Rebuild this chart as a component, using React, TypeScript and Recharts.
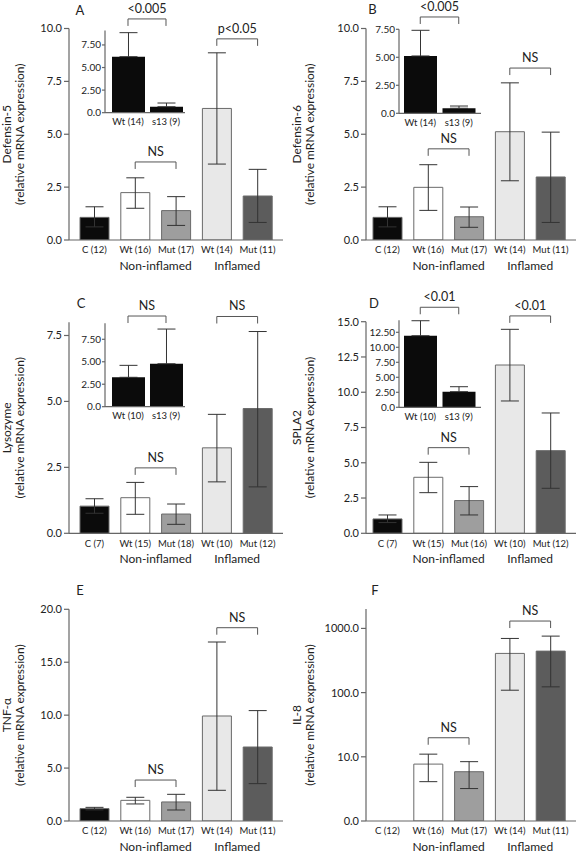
import React from "react"
import { BarChart, Bar, XAxis, YAxis, ErrorBar, Cell, ReferenceLine } from "recharts"

const FONT = "Lato, 'Noto Sans', sans-serif"
const INK = "#222"
const AXIS = "#666"

// categories
const catsA = ["C (12)", "Wt (16)", "Mut (17)", "Wt (14)", "Mut (11)"]
const catsC = ["C (7)", "Wt (15)", "Mut (18)", "Wt (10)", "Mut (12)"]
const catsD = ["C (7)", "Wt (15)", "Mut (16)", "Wt (10)", "Mut (12)"]
const groupNames = ["", "Non-inflamed", "", "Inflamed", ""]
const barFills = ["#0b0b0b", "#ffffff", "#9e9e9e", "#e8e8e8", "#5c5c5c"]
const insetCatsAB = ["Wt (14)", "s13 (9)"]
const insetCatsCD = ["Wt (10)", "s13 (9)"]

// A - Defensin-5
const def5Mean = [1.07, 2.24, 1.39, 6.22, 2.08]
const def5High = [1.57, 2.94, 2.05, 8.85, 3.34]
const def5Low = [0.62, 1.5, 0.69, 3.59, 0.83]
// B - Defensin-6
const def6Mean = [1.07, 2.49, 1.1, 5.12, 2.98]
const def6High = [1.57, 3.56, 1.56, 7.43, 5.1]
const def6Low = [0.62, 1.4, 0.6, 2.8, 0.83]
// C - Lysozyme
const lysoMean = [1.03, 1.35, 0.73, 3.24, 4.73]
const lysoHigh = [1.31, 1.93, 1.11, 4.51, 7.65]
const lysoLow = [0.76, 0.72, 0.34, 1.95, 1.76]
// D - SPLA2
const splaMean = [1.02, 3.97, 2.32, 11.93, 5.86]
const splaHigh = [1.3, 5.03, 3.31, 14.46, 8.53]
const splaLow = [0.76, 2.88, 1.3, 9.38, 3.19]
// E - TNF-alpha
const tnfMean = [1.17, 1.95, 1.8, 9.92, 6.99]
const tnfHigh = [1.29, 2.24, 2.52, 16.91, 10.43]
const tnfLow = [1.05, 1.61, 1.04, 2.9, 3.53]
// F - IL-8 (log axis, no control bar)
const il8Mean = [null, 7.7, 5.86, 408, 443]
const il8High = [null, 11.0, 8.4, 698, 759]
const il8Low = [null, 4.1, 3.2, 109, 123]

// insets: Wt vs s13
const inDef5Mean = [6.2, 0.66]
const inDef5High = [8.86, 1.07]
const inDef6Mean = [5.12, 0.45]
const inDef6High = [7.41, 0.65]
const inLysoMean = [3.27, 4.78]
const inLysoHigh = [4.6, 8.64]
const inSplaMean = [11.93, 2.6]
const inSplaHigh = [14.43, 3.43]

// ticks
const ticksDef = [0, 2.5, 5, 7.5, 10]
const ticksLyso = [0, 2.5, 5, 7.5]
const ticksSpla = [0, 2.5, 5, 7.5, 10, 12.5, 15]
const ticksTnf = [0, 5, 10, 15, 20]
const ticksIl8 = [1, 10, 100, 1000]
const ticksInset = [0, 2.5, 5, 7.5]
const ticksInsetD = [0, 2.5, 5, 7.5, 10, 12.5]

// significance brackets
const bracketsA = [
  { from: "Wt (16)", to: "Mut (17)", y: 3.69, text: "NS" },
  { from: "Wt (14)", to: "Mut (11)", y: 9.51, text: "p<0.05" },
]
const bracketsB = [
  { from: "Wt (16)", to: "Mut (17)", y: 4.31, text: "NS" },
  { from: "Wt (14)", to: "Mut (11)", y: 8.13, text: "NS" },
]
const bracketsC = [
  { from: "Wt (15)", to: "Mut (18)", y: 2.48, text: "NS" },
  { from: "Wt (10)", to: "Mut (12)", y: 8.22, text: "NS" },
]
const bracketsD = [
  { from: "Wt (15)", to: "Mut (16)", y: 6.07, text: "NS" },
  { from: "Wt (10)", to: "Mut (12)", y: 15.41, text: "<0.01" },
]
const bracketsE = [
  { from: "Wt (16)", to: "Mut (17)", y: 3.87, text: "NS" },
  { from: "Wt (14)", to: "Mut (11)", y: 18.26, text: "NS" },
]
const bracketsF = [
  { from: "Wt (16)", to: "Mut (17)", y: 19.8, text: "NS" },
  { from: "Wt (14)", to: "Mut (11)", y: 1303, text: "NS" },
]
const bracketInA = [{ from: "Wt (14)", to: "s13 (9)", y: 10.38, text: "<0.005" }]
const bracketInB = [{ from: "Wt (14)", to: "s13 (9)", y: 8.6, text: "<0.005" }]
const bracketInC = [{ from: "Wt (10)", to: "s13 (9)", y: 10.09, text: "NS" }]
const bracketInD = [{ from: "Wt (10)", to: "s13 (9)", y: 16.67, text: "<0.01" }]

type Bracket = { from: string; to: string; y: number; text: string }

function mainRows(cats: string[], mean: (number | null)[], high: (number | null)[], low: (number | null)[]) {
  return cats.map((name, i) => {
    const m = mean[i]
    return {
      name,
      mean: m,
      err: m == null ? null : [m - (low[i] as number), (high[i] as number) - m],
    }
  })
}

function insetRows(cats: string[], mean: number[], high: number[]) {
  return cats.map((name, i) => ({ name, mean: mean[i], err: [0, high[i] - mean[i]] }))
}

const bracketShape = (p: any) => (
  <path
    d={`M${p.x1},${p.y1 + 7}V${p.y1}H${p.x2}V${p.y2 + 7}`}
    fill="none"
    stroke="#555"
    strokeWidth={1}
  />
)

function renderBrackets(list: Bracket[]) {
  return list.map((b, i) => (
    <ReferenceLine
      key={i}
      segment={[{ x: b.from, y: b.y }, { x: b.to, y: b.y }]}
      ifOverflow="visible"
      shape={bracketShape}
      label={{ value: b.text, position: "top", offset: 6, fontSize: 12.5, fill: INK, fontFamily: FONT }}
    />
  ))
}

const STEP = 40.8

function CatTick(props: any) {
  const { x, y, payload, index } = props
  const g = groupNames[index]
  return (
    <g>
      <text x={x} y={y + 13.4} textAnchor="middle" fontSize={9.5} fill={INK} fontFamily={FONT}>
        {payload.value}
      </text>
      {g ? (
        <text x={x + STEP / 2} y={y + 29.5} textAnchor="middle" fontSize={12} fill={INK} fontFamily={FONT}>
          {g}
        </text>
      ) : null}
    </g>
  )
}

function InsetTick(props: any) {
  const { x, y, payload } = props
  return (
    <text x={x} y={y + 12.4} textAnchor="middle" fontSize={9.5} fill={INK} fontFamily={FONT}>
      {payload.value}
    </text>
  )
}

const yLabel = (lines: string[], offs: number[]) => (props: any) => {
  const vb = props.viewBox
  const cy = vb.y + vb.height / 2
  return (
    <g>
      {lines.map((t, i) => {
        const x = vb.x + offs[i]
        return (
          <text
            key={i}
            x={x}
            y={cy}
            transform={`rotate(-90 ${x} ${cy})`}
            textAnchor="middle"
            dominantBaseline="central"
            fontSize={12}
            fill={INK}
            fontFamily={FONT}
          >
            {t}
          </text>
        )
      })}
    </g>
  )
}

const fmtMain = (v: number) => v.toFixed(1)
const fmtLog = (v: number) => (v === 1 ? "0.0" : v.toFixed(1))
const fmtInset = (v: number) => (v === 0 ? "0.0" : v.toFixed(2))

function MainPanel(props: any) {
  const { left, top, width, plotTop, plotBottom, yW, mRight, pad, rows, domain, ticks, log, brackets, title, labelOffs } = props
  const mTop = plotTop - top
  const xh = 45
  return (
    <div style={{ position: "absolute", left, top }}>
      <BarChart
        width={width}
        height={plotBottom - top + xh}
        data={rows}
        margin={{ top: mTop, right: mRight, bottom: 0, left: 0 }}
        style={{ overflow: "visible" }}
      >
        <XAxis
          dataKey="name"
          height={xh}
          padding={pad}
          tickLine={false}
          tickSize={0}
          tickMargin={0}
          interval={0}
          stroke={AXIS}
          strokeWidth={1.2}
          tick={<CatTick />}
        />
        <YAxis
          width={yW}
          type="number"
          scale={log ? "log" : "auto"}
          domain={domain}
          ticks={ticks}
          interval={0}
          allowDataOverflow
          tickSize={5}
          tickMargin={2}
          stroke={AXIS}
          strokeWidth={1.2}
          tick={{ fontSize: 11, fill: INK, fontFamily: FONT }}
          tickFormatter={log ? fmtLog : fmtMain}
          label={yLabel([title, "(relative mRNA expression)"], labelOffs)}
        />
        <Bar dataKey="mean" barSize={29} stroke="#6a6a6a" strokeWidth={1} isAnimationActive={false}>
          {rows.map((_: any, i: number) => (
            <Cell key={i} fill={barFills[i]} />
          ))}
          <ErrorBar dataKey="err" width={9} stroke="#333" strokeWidth={1} direction="y" isAnimationActive={false} />
        </Bar>
        {renderBrackets(brackets)}
      </BarChart>
    </div>
  )
}

function InsetPanel(props: any) {
  const { left, top, width, plotTop, plotBottom, pad, rows, domain, ticks, brackets } = props
  const xh = 18
  return (
    <div style={{ position: "absolute", left, top }}>
      <BarChart
        width={width}
        height={plotBottom - top + xh}
        data={rows}
        margin={{ top: plotTop - top, right: 2, bottom: 0, left: 0 }}
        style={{ overflow: "visible" }}
      >
        <XAxis
          dataKey="name"
          height={xh}
          padding={pad}
          tickLine={false}
          tickSize={0}
          tickMargin={0}
          interval={0}
          stroke={AXIS}
          strokeWidth={1.2}
          tick={<InsetTick />}
        />
        <YAxis
          width={40}
          type="number"
          domain={domain}
          ticks={ticks}
          interval={0}
          allowDataOverflow
          tickSize={3}
          tickMargin={1}
          stroke={AXIS}
          strokeWidth={1.2}
          tick={{ fontSize: 10, fill: INK, fontFamily: FONT }}
          tickFormatter={fmtInset}
        />
        <Bar dataKey="mean" barSize={33} fill="#0b0b0b" isAnimationActive={false}>
          <ErrorBar dataKey="err" width={9} stroke="#333" strokeWidth={1} direction="y" isAnimationActive={false} />
        </Bar>
        {renderBrackets(brackets)}
      </BarChart>
    </div>
  )
}

const letters = [
  { t: "A", x: 80, y: 10 },
  { t: "B", x: 372.5, y: 9 },
  { t: "C", x: 81, y: 303 },
  { t: "D", x: 374, y: 303 },
  { t: "E", x: 80, y: 590 },
  { t: "F", x: 375, y: 590 },
]

export default function App() {
  const leftCol = { left: 0, width: 288, yW: 69, mRight: 5, pad: { left: 5, right: 5 }, labelOffs: [6.7, 19.2] }
  const rightCol = { left: 288, width: 289, yW: 78, mRight: 1, pad: { left: 1, right: 5 }, labelOffs: [8.3, 21.3] }
  return (
    <div style={{ position: "relative", width: 577, height: 853, background: "#fff", fontFamily: FONT }}>
      <style>{"body{margin:0}"}</style>
      <MainPanel {...leftCol} top={0} plotTop={28.5} plotBottom={240} rows={mainRows(catsA, def5Mean, def5High, def5Low)}
        domain={[0, 10]} ticks={ticksDef} brackets={bracketsA} title="Defensin-5" />
      <MainPanel {...rightCol} top={0} plotTop={28.5} plotBottom={240} rows={mainRows(catsA, def6Mean, def6High, def6Low)}
        domain={[0, 10]} ticks={ticksDef} brackets={bracketsB} title="Defensin-6" />
      <MainPanel {...leftCol} top={290} plotTop={322.3} plotBottom={533.3} rows={mainRows(catsC, lysoMean, lysoHigh, lysoLow)}
        domain={[0, 8]} ticks={ticksLyso} brackets={bracketsC} title="Lysozyme" />
      <MainPanel {...rightCol} top={290} plotTop={321.7} plotBottom={533.3} rows={mainRows(catsD, splaMean, splaHigh, splaLow)}
        domain={[0, 15]} ticks={ticksSpla} brackets={bracketsD} title="SPLA2" />
      <MainPanel {...leftCol} top={575} plotTop={609.3} plotBottom={821} rows={mainRows(catsA, tnfMean, tnfHigh, tnfLow)}
        domain={[0, 20]} ticks={ticksTnf} brackets={bracketsE} title="TNF-α" />
      <MainPanel {...rightCol} top={575} plotTop={609.1} plotBottom={821} rows={mainRows(catsA, il8Mean, il8High, il8Low)}
        domain={[1, 2000]} ticks={ticksIl8} log brackets={bracketsF} title="IL-8" />

      <InsetPanel left={65} top={0} width={122} plotTop={30.5} plotBottom={112.7} pad={{ left: 4, right: 0 }}
        rows={insetRows(insetCatsAB, inDef5Mean, inDef5High)} domain={[0, 9.1]} ticks={ticksInset} brackets={bracketInA} />
      <InsetPanel left={359} top={0} width={124} plotTop={29.3} plotBottom={113.3} pad={{ left: 2, right: 3 }}
        rows={insetRows(insetCatsAB, inDef6Mean, inDef6High)} domain={[0, 7.5]} ticks={ticksInset} brackets={bracketInB} />
      <InsetPanel left={65} top={290} width={122} plotTop={323.3} plotBottom={406.7} pad={{ left: 4, right: 0 }}
        rows={insetRows(insetCatsCD, inLysoMean, inLysoHigh)} domain={[0, 9.28]} ticks={ticksInset} brackets={bracketInC} />
      <InsetPanel left={359} top={290} width={124} plotTop={320.3} plotBottom={407.3} pad={{ left: 2, right: 3 }}
        rows={insetRows(insetCatsCD, inSplaMean, inSplaHigh)} domain={[0, 14.5]} ticks={ticksInsetD} brackets={bracketInD} />

      {letters.map((l) => (
        <div
          key={l.t}
          style={{
            position: "absolute",
            left: l.x,
            top: l.y,
            transform: "translate(-50%, -50%)",
            fontSize: 13,
            color: INK,
            lineHeight: 1,
          }}
        >
          {l.t}
        </div>
      ))}
    </div>
  )
}
